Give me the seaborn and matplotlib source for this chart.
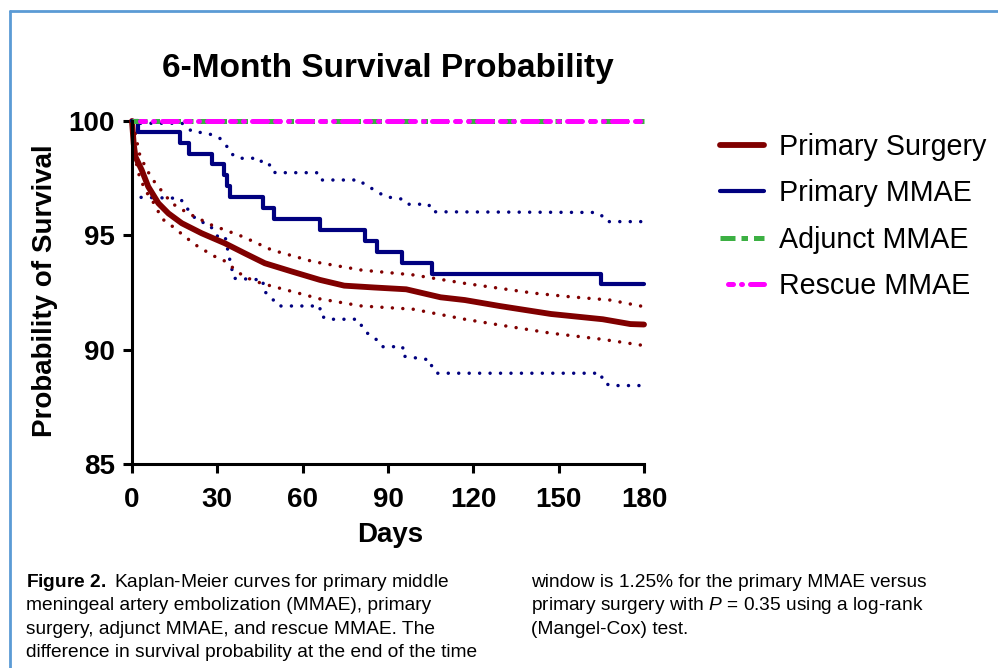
import numpy as np
import pandas as pd
import seaborn as sns
import matplotlib.pyplot as plt
from matplotlib.lines import Line2D

# Primary surgery KM curve and 95% CI
surg_days = [0, 0.6, 1.2, 3.4, 5.7, 9.3, 12.8, 17.5, 24.5, 32.7, 39.7, 46.7, 56.4, 66.1,
             74.6, 85, 96.4, 108.5, 117, 129.2, 147.3, 165.5, 175.2, 180]
surg_surv = [100, 99.0, 98.44, 97.86, 97.13, 96.40, 95.96, 95.53, 95.09, 94.65, 94.21, 93.78,
             93.41, 93.05, 92.80, 92.72, 92.64, 92.29, 92.17, 91.91, 91.56, 91.33, 91.12, 91.1]
surg_up_days = [0.5, 2.5, 5, 8.1, 14, 19.8, 28, 39, 49.1, 63.7, 80.7, 98.8, 117, 141.3,
                153.4, 168, 180]
surg_up = [99.9, 98.6, 97.9, 97.30, 96.40, 95.96, 95.45, 94.94, 94.36, 93.85, 93.48, 93.27,
           92.90, 92.47, 92.32, 92.17, 91.88]
surg_lo_days = [0.5, 2, 4.5, 8.1, 10.4, 15.1, 18.6, 23.3, 29.2, 32.1, 39.4, 45.5, 56.4, 66.1,
                80.7, 98.8, 117, 129.2, 147.3, 165.5, 180]
surg_lo = [99.0, 97.8, 97.0, 96.33, 95.74, 95.31, 94.94, 94.50, 94.07, 93.92, 93.19, 92.90,
           92.54, 92.22, 91.91, 91.77, 91.33, 91.08, 90.72, 90.45, 90.18]

# Primary MMAE KM steps and CI
mmae_days = [0, 2, 17, 20, 28, 32.5, 33.5, 34.5, 46, 50, 66, 82, 86, 95, 105.5, 165, 180]
mmae_surv = [100, 99.52, 99.05, 98.57, 98.10, 97.62, 97.14, 96.67, 96.19, 95.71, 95.24,
             94.76, 94.29, 93.81, 93.33, 92.86, 92.86]
mmae_up_days = [3, 17.6, 21.2, 24.9, 28.5, 30.9, 33.4, 34.6, 37.6, 44.9, 46.1, 49.1, 50.3,
                64.9, 66.1, 80.1, 81.9, 84.9, 89.1, 95.2, 97.0, 104.3, 105.5, 163.1, 164.9,
                166.7, 180]
mmae_up = [99.9, 99.9, 99.53, 99.49, 99.39, 99.24, 98.88, 98.59, 98.37, 98.37, 98.08, 98.08,
           97.74, 97.74, 97.42, 97.42, 97.20, 97.01, 96.69, 96.58, 96.36, 96.36, 96.03, 96.0,
           95.9, 95.60, 95.60]
mmae_lo_days = [3.2, 16.9, 19.8, 22.7, 27.4, 29.8, 32.7, 33.9, 35.8, 46.1, 46.1, 49.7, 51.5,
                66.1, 66.1, 68.5, 79.4, 81.9, 85.5, 87.9, 95.2, 95.2, 104.9, 105.5, 107.3,
                164.9, 165.5, 168, 180]
mmae_lo = [96.66, 96.62, 96.11, 95.67, 95.45, 94.97, 94.97, 94.21, 93.12, 93.05, 92.61,
           92.17, 91.91, 91.91, 91.52, 91.33, 91.33, 90.79, 90.50, 90.13, 90.13, 89.72,
           89.55, 89.19, 88.97, 88.97, 88.60, 88.43, 88.43]

# Adjunct / rescue MMAE: no events
flat_days = [0, 180]
adjunct_surv = [100, 100]
rescue_surv = [100, 100]

dark_red = '#800000'
navy = '#00007f'
green = '#3cb043'
magenta = '#ff00ff'

sns.set_style('ticks')
plt.rcParams['font.family'] = ['Liberation Sans', 'DejaVu Sans']
plt.rcParams['mathtext.fontset'] = 'custom'
plt.rcParams['mathtext.it'] = 'Liberation Sans:italic'
plt.rcParams['mathtext.rm'] = 'Liberation Sans'
plt.rcParams['mathtext.bf'] = 'Liberation Sans:bold'
for k in ['text.color', 'axes.labelcolor', 'xtick.color', 'ytick.color', 'axes.edgecolor']:
    plt.rcParams[k] = 'black'

fig = plt.figure(figsize=(9.98, 6.68), dpi=100)
ax = fig.add_axes([132/998, 1-464/668, 512/998, 343/668])

dot = dict(linestyle=(0, (0.01, 3.0)), lw=2.5, dash_capstyle='round', estimator=None, sort=False)
sns.lineplot(x=mmae_up_days, y=mmae_up, color=navy, ax=ax, **dot)
sns.lineplot(x=mmae_lo_days, y=mmae_lo, color=navy, ax=ax, **dot)
sns.lineplot(x=surg_up_days, y=surg_up, color=dark_red, ax=ax, **dot)
sns.lineplot(x=surg_lo_days, y=surg_lo, color=dark_red, ax=ax, **dot)

sns.lineplot(x=surg_days, y=surg_surv, color=dark_red, lw=4.2, ax=ax, estimator=None,
             sort=False, label='Primary Surgery', clip_on=False)
sns.lineplot(x=mmae_days, y=mmae_surv, color=navy, lw=3.0, ax=ax, estimator=None,
             sort=False, drawstyle='steps-post', label='Primary MMAE', clip_on=False)
sns.lineplot(x=flat_days, y=adjunct_surv, color=green, lw=3.6, ax=ax, estimator=None,
             linestyle=(0, (3.0, 1.2, 1.3, 1.2)), label='Adjunct MMAE', clip_on=False)
sns.lineplot(x=flat_days, y=rescue_surv, color=magenta, lw=3.6, ax=ax, estimator=None,
             linestyle=(3, (3.0, 1.6, 1.0, 1.6, 0.2, 1.6)), dash_capstyle='round',
             label='Rescue MMAE', clip_on=False)

ax.set_xlim(0, 180)
ax.set_ylim(85, 100)
ax.set_xticks([0, 30, 60, 90, 120, 150, 180])
ax.set_yticks([85, 90, 95, 100])
ax.set_xlabel('')
ax.set_ylabel('')
sns.despine(ax=ax)
for s in ['left', 'bottom']:
    ax.spines[s].set_linewidth(2.2)
ax.tick_params(length=6.5, width=2.2, labelsize=20, pad=6, color='black')
ax.tick_params(axis='x', pad=10)
for lbl in ax.get_xticklabels() + ax.get_yticklabels():
    lbl.set_fontweight('bold')

leg = ax.legend(loc='upper left', bbox_to_anchor=(720/998, 1-133/668),
                bbox_transform=fig.transFigure, frameon=False, fontsize=20.6,
                handlelength=1.55, handletextpad=0.5, labelspacing=0.64,
                borderpad=0, borderaxespad=0)

fig.text(388/998, 1-68/668, '6-Month Survival Probability', ha='center', va='center',
         fontsize=24, fontweight='bold')
fig.text(45/998, 1-291/668, 'Probability of Survival', ha='center', va='center',
         rotation=90, fontsize=20, fontweight='bold')
fig.text(390/998, 1-535/668, 'Days', ha='center', va='center', fontsize=20,
         fontweight='bold')

# caption
cap = 13.8
base = 587
fig.text(26/998, 1-base/668, r'$\mathbf{Figure\ 2.}$ Kaplan-Meier curves for primary middle',
         fontsize=cap, va='baseline')
left_lines = ['meningeal artery embolization (MMAE), primary',
              'surgery, adjunct MMAE, and rescue MMAE. The',
              'difference in survival probability at the end of the time']
for i, t in enumerate(left_lines):
    fig.text(26/998, 1-(base+23.3*(i+1))/668, t, fontsize=cap, va='baseline')
right_lines = ['window is 1.25% for the primary MMAE versus',
               r'primary surgery with $P$ = 0.35 using a log-rank',
               '(Mangel-Cox) test.']
for i, t in enumerate(right_lines):
    fig.text(531/998, 1-(base+23.3*i)/668, t, fontsize=cap, va='baseline')

frame = '#5b9bd5'
fig.add_artist(Line2D([9.5/998, 9.5/998], [0, 1-11/668], transform=fig.transFigure,
                      color=frame, lw=2))
fig.add_artist(Line2D([9.5/998, 1], [1-11/668, 1-11/668], transform=fig.transFigure,
                      color=frame, lw=2))

fig.savefig('out.png', dpi=100)
